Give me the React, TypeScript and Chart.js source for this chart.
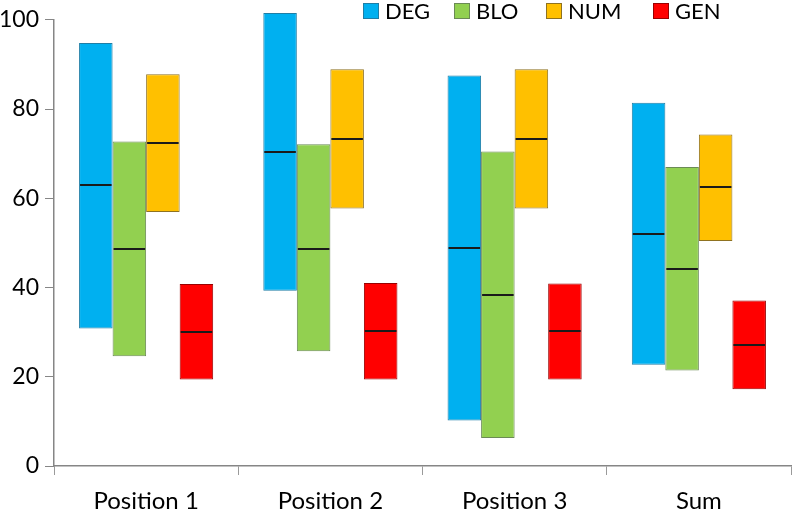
import React, { useEffect, useRef } from "react";
import { Chart, registerables } from "chart.js";

Chart.register(...registerables);

const categories = ["Position 1", "Position 2", "Position 3", "Sum"];
const seriesNames = ["DEG", "BLO", "NUM", "GEN"];

const degLow = [30.8, 39.3, 10.2, 22.7];
const degHigh = [94.8, 101.5, 87.5, 81.4];
const degMed = [63.0, 70.4, 48.8, 52.1];

const bloLow = [24.6, 25.7, 6.3, 21.4];
const bloHigh = [72.7, 72.1, 70.5, 67.0];
const bloMed = [48.6, 48.7, 38.3, 44.2];

const numLow = [56.9, 57.7, 57.7, 50.4];
const numHigh = [87.8, 88.9, 88.9, 74.3];
const numMed = [72.4, 73.2, 73.3, 62.5];

const genLow = [19.4, 19.4, 19.4, 17.2];
const genHigh = [40.8, 41.0, 40.9, 37.1];
const genMed = [30.1, 30.2, 30.2, 27.2];

const yTicks = [0, 20, 40, 60, 80, 100];

const fills = ["#00B0F0", "#92D050", "#FFC000", "#FF0000"];
const borders = ["#1f7ea6", "#6b8a55", "#8f7220", "#9a0000"];

const lows = [degLow, bloLow, numLow, genLow];
const highs = [degHigh, bloHigh, numHigh, genHigh];
const meds = [degMed, bloMed, numMed, genMed];

const FONT = "Lato, 'Noto Sans', sans-serif";

const medianPlugin = {
  id: "medianLines",
  afterDatasetsDraw(chart: any) {
    const ctx = chart.ctx;
    const y = chart.scales.y;
    ctx.save();
    chart.data.datasets.forEach((ds: any, di: number) => {
      const meta = chart.getDatasetMeta(di);
      meta.data.forEach((el: any, i: number) => {
        const m = ds.medians[i];
        const py = Math.round(y.getPixelForValue(m));
        ctx.beginPath();
        ctx.strokeStyle = "#1a1a1a";
        ctx.lineWidth = 2;
        ctx.moveTo(el.x - el.width / 2 + 1, py);
        ctx.lineTo(el.x + el.width / 2 - 1, py);
        ctx.stroke();
      });
    });
    ctx.restore();
  },
};

export default function App() {
  const ref = useRef<HTMLCanvasElement | null>(null);
  useEffect(() => {
    document.body.style.margin = "0";
    const datasets = seriesNames.map((name, s) => ({
      label: name,
      data: categories.map((_, i) => [lows[s][i], highs[s][i]]),
      medians: meds[s],
      backgroundColor: fills[s],
      borderColor: borders[s],
      borderWidth: 1,
      borderSkipped: false,
      categoryPercentage: 0.728,
      barPercentage: 1,
      clip: false,
    }));
    const chart = new Chart(ref.current as HTMLCanvasElement, {
      type: "bar",
      data: { labels: categories, datasets: datasets as any },
      options: {
        animation: false,
        responsive: false,
        maintainAspectRatio: false,
        layout: { padding: { top: 14, right: 1, left: 0, bottom: 0 } },
        plugins: { legend: { display: false }, tooltip: { enabled: false } },
        scales: {
          x: {
            grid: {
              offset: true,
              drawOnChartArea: false,
              drawTicks: true,
              tickLength: 9,
              color: "#9a9a9a",
            },
            border: { color: "#868686", width: 1.5 },
            ticks: {
              color: "#000",
              font: { family: FONT, size: 24 },
              padding: 12,
            },
            afterFit(scale: any) {
              scale.height = 45;
            },
          },
          y: {
            min: 0,
            max: 100,
            afterBuildTicks(scale: any) {
              scale.ticks = yTicks.map((v) => ({ value: v }));
            },
            grid: {
              drawOnChartArea: false,
              drawTicks: true,
              tickLength: 9,
              color: "#868686",
            },
            border: { color: "#868686", width: 1.5 },
            ticks: {
              color: "#000",
              font: { family: FONT, size: 23 },
              padding: 6,
            },
            afterFit(scale: any) {
              scale.width = 54;
            },
          },
        },
      },
      plugins: [medianPlugin],
    });
    return () => chart.destroy();
  }, []);

  const legendX = [363, 454, 546, 653];
  return (
    <div style={{ position: "relative", width: 792, height: 511, fontFamily: FONT }}>
      <canvas ref={ref} width={792} height={511} style={{ display: "block" }} />
      {seriesNames.map((n, s) => (
        <div
          key={n}
          style={{
            position: "absolute",
            left: legendX[s],
            top: 0,
            height: 22,
            display: "flex",
            alignItems: "center",
            fontSize: 22,
            lineHeight: "22px",
            color: "#000",
          }}
        >
          <span
            style={{
              display: "inline-block",
              width: 14,
              height: 14,
              background: fills[s],
              border: `1px solid ${borders[s]}`,
              marginRight: 6,
            }}
          />
          <span>{n}</span>
        </div>
      ))}
    </div>
  );
}
